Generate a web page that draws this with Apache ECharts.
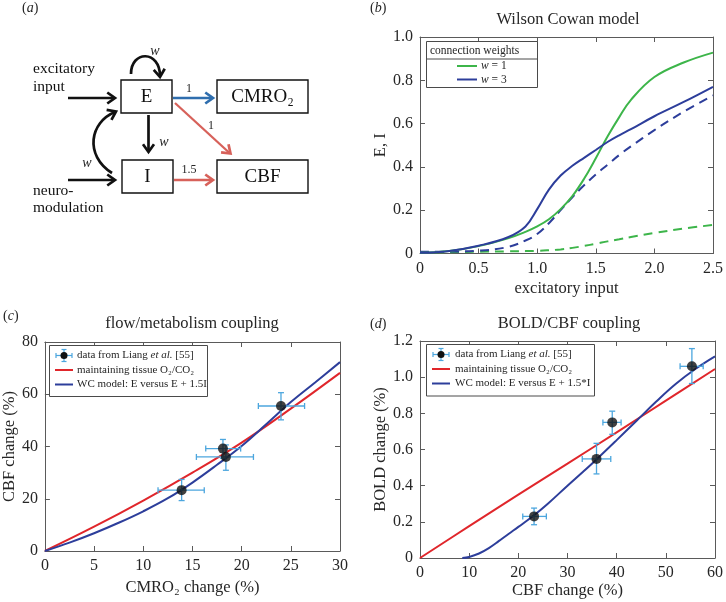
<!DOCTYPE html>
<html><head><meta charset="utf-8">
<script src="https://cdn.jsdelivr.net/npm/echarts@6/dist/echarts.min.js"></script>
<style>html,body{margin:0;padding:0;background:#fff}#c{width:726px;height:602px}</style>
</head><body><div id="c"></div>
<script>
// ---------- Panel (b): Wilson Cowan model ----------
const bX = [0, 0.25, 0.5, 0.75, 0.9, 1.0, 1.1, 1.2, 1.3, 1.4, 1.5, 1.6, 1.7, 1.8, 2.0, 2.25, 2.5];
const bE_w1 = [0.003, 0.012, 0.034, 0.07, 0.1, 0.125, 0.158, 0.205, 0.265, 0.345, 0.44, 0.54, 0.63, 0.71, 0.815, 0.882, 0.928];
const bE_w3 = [0.003, 0.012, 0.036, 0.075, 0.125, 0.205, 0.295, 0.36, 0.405, 0.442, 0.478, 0.515, 0.546, 0.574, 0.634, 0.70, 0.77];
const bI_w1 = [0.005, 0.006, 0.008, 0.01, 0.011, 0.012, 0.015, 0.019, 0.026, 0.035, 0.045, 0.056, 0.066, 0.076, 0.095, 0.115, 0.132];
const bI_w3 = [0.008, 0.009, 0.013, 0.03, 0.06, 0.09, 0.14, 0.2, 0.26, 0.315, 0.365, 0.41, 0.455, 0.495, 0.57, 0.655, 0.73];
const bXTicks = ['0', '0.5', '1.0', '1.5', '2.0', '2.5'];
const bYTicks = ['0', '0.2', '0.4', '0.6', '0.8', '1.0'];

// ---------- Panel (c): flow/metabolism coupling ----------
const cRedX = [0, 5, 10, 15, 20, 25, 30];
const cRedY = [0, 9.3, 19.3, 30, 41.5, 54.5, 68.2];
const cBlueX = [0, 2.5, 5, 7.5, 10, 12.5, 15, 17.5, 20, 22.5, 25, 27.5, 30];
const cBlueY = [0, 3.2, 6.8, 10.8, 15.2, 20.2, 26.2, 33, 40.2, 48.5, 57, 64.6, 72.3];
const cCMRO = [13.9, 18.1, 18.4, 24.0];
const cCBF = [23.3, 39.2, 36.0, 55.5];
const cCMROlo = [11.5, 16.35, 15.4, 21.7];
const cCMROhi = [16.2, 19.9, 21.2, 26.4];
const cCBFlo = [19.3, 35.5, 30.9, 50.2];
const cCBFhi = [27.4, 42.7, 40.6, 60.6];
const cXTicks = ['0', '5', '10', '15', '20', '25', '30'];
const cYTicks = ['0', '20', '40', '60', '80'];

// ---------- Panel (d): BOLD/CBF coupling ----------
const dRedX = [0, 10, 20, 30, 40, 50, 60];
const dRedY = [0, 0.176, 0.350, 0.522, 0.695, 0.870, 1.045];
const dBlueX = [8.6, 10, 12, 14, 16, 18, 20, 23, 26, 30, 33, 36, 40, 44, 48, 52, 56, 60];
const dBlueY = [0, 0.006, 0.025, 0.055, 0.093, 0.133, 0.172, 0.232, 0.30, 0.400, 0.473, 0.548, 0.652, 0.758, 0.864, 0.962, 1.045, 1.115];
const dCBF = [23.2, 35.9, 39.1, 55.3];
const dBOLD = [0.23, 0.548, 0.75, 1.06];
const dCBFlo = [20.9, 33.0, 37.2, 52.9];
const dCBFhi = [25.7, 38.8, 40.9, 57.6];
const dBOLDlo = [0.184, 0.465, 0.684, 0.965];
const dBOLDhi = [0.276, 0.634, 0.812, 1.158];
const dXTicks = ['0', '10', '20', '30', '40', '50', '60'];
const dYTicks = ['0', '0.2', '0.4', '0.6', '0.8', '1.0', '1.2'];

// ---------- styling ----------
const FONT = 'Liberation Serif';
const AX = '#5a5a5a';
const TXT = '#262626';
const GREEN = '#3db54a';
const BLUE = '#2d3e9b';
const RED = '#e0262b';
const ERR = '#4ca6de';
const TICK_FS = 16;
const NAME_FS = 16.5;

function xPair(gi, min, max, interval, ticks, name, nameGap) {
  return [{
    type: 'value', gridIndex: gi, min, max, interval, position: 'bottom',
    axisLine: {show: true, onZero: false, lineStyle: {color: AX, width: 1}},
    axisTick: {show: true, inside: true, length: 5, lineStyle: {color: AX}},
    axisLabel: {show: true, color: TXT, fontFamily: FONT, fontSize: TICK_FS, margin: 7,
      formatter: v => ticks[Math.round((v - min) / interval)]},
    splitLine: {show: false},
    name, nameLocation: 'middle', nameGap,
    nameTextStyle: {color: TXT, fontFamily: FONT, fontSize: NAME_FS}
  }, {
    type: 'value', gridIndex: gi, min, max, interval, position: 'top',
    axisLine: {show: true, onZero: false, lineStyle: {color: AX, width: 1}},
    axisTick: {show: true, inside: true, length: 5, lineStyle: {color: AX}},
    axisLabel: {show: false}, splitLine: {show: false}
  }];
}
function yPair(gi, min, max, interval, ticks, name, nameGap) {
  return [{
    type: 'value', gridIndex: gi, min, max, interval, position: 'left',
    axisLine: {show: true, onZero: false, lineStyle: {color: AX, width: 1}},
    axisTick: {show: true, inside: true, length: 5, lineStyle: {color: AX}},
    axisLabel: {show: true, color: TXT, fontFamily: FONT, fontSize: TICK_FS, margin: 7,
      formatter: v => ticks[Math.round((v - min) / interval)]},
    splitLine: {show: false},
    name, nameLocation: 'middle', nameGap,
    nameTextStyle: {color: TXT, fontFamily: FONT, fontSize: NAME_FS}
  }, {
    type: 'value', gridIndex: gi, min, max, interval, position: 'right',
    axisLine: {show: true, onZero: false, lineStyle: {color: AX, width: 1}},
    axisTick: {show: true, inside: true, length: 5, lineStyle: {color: AX}},
    axisLabel: {show: false}, splitLine: {show: false}
  }];
}

function lineS(name, gi, xs, ys, color, dashed) {
  return {
    type: 'line', name, xAxisIndex: gi * 2, yAxisIndex: gi * 2,
    data: xs.map((x, i) => [x, ys[i]]), showSymbol: false,
    smooth: 0.4, silent: true,
    lineStyle: {color, width: 2, type: dashed ? [9, 6] : 'solid'},
    itemStyle: {color}, z: 2
  };
}
function errS(gi, xs, ys, xlo, xhi, ylo, yhi) {
  return {
    type: 'custom', xAxisIndex: gi * 2, yAxisIndex: gi * 2, silent: true, z: 3,
    data: xs.map((x, i) => [x, ys[i], xlo[i], xhi[i], ylo[i], yhi[i]]),
    encode: {x: [0, 2, 3], y: [1, 4, 5]},
    renderItem: (params, api) => {
      const x = api.value(0), y = api.value(1);
      const l = api.coord([api.value(2), y]), r = api.coord([api.value(3), y]);
      const b = api.coord([x, api.value(4)]), t = api.coord([x, api.value(5)]);
      const cap = 3;
      const style = {stroke: ERR, lineWidth: 1.3};
      const L = (x1, y1, x2, y2) => ({type: 'line', shape: {x1, y1, x2, y2}, style});
      return {type: 'group', children: [
        L(l[0], l[1], r[0], r[1]),
        L(l[0], l[1] - cap, l[0], l[1] + cap),
        L(r[0], r[1] - cap, r[0], r[1] + cap),
        L(b[0], b[1], t[0], t[1]),
        L(b[0] - cap, b[1], b[0] + cap, b[1]),
        L(t[0] - cap, t[1], t[0] + cap, t[1])
      ]};
    }
  };
}
function ptS(gi, xs, ys) {
  return {type: 'scatter', xAxisIndex: gi * 2, yAxisIndex: gi * 2, silent: true, z: 5,
    symbolSize: 10, itemStyle: {color: '#111'}, data: xs.map((x, i) => [x, ys[i]])};
}

// ---------- graphic helpers (diagram, legends, panel labels) ----------
function T(text, x, y, size, extra) {
  return {type: 'text', z: 100, style: Object.assign({
    text, x, y, fill: TXT, fontFamily: FONT, fontSize: size,
    textAlign: 'left', textVerticalAlign: 'middle', align: 'left', verticalAlign: 'middle'
  }, extra || {})};
}
const ital = s => ({fontStyle: 'italic', fontFamily: FONT, fontSize: s, fill: TXT});
function Ln(x1, y1, x2, y2, color, w) {
  return {type: 'line', z: 100, shape: {x1, y1, x2, y2}, style: {stroke: color, lineWidth: w}};
}
function head(tx, ty, ang, color, len, w) {
  len = len || 9.5; const sp = 0.62;
  return {type: 'polyline', z: 100, shape: {points: [
    [tx - len * Math.cos(ang - sp), ty - len * Math.sin(ang - sp)], [tx, ty],
    [tx - len * Math.cos(ang + sp), ty - len * Math.sin(ang + sp)]]},
    style: {stroke: color, lineWidth: w || 2.7, fill: null, lineJoin: 'miter'}};
}
function box(x, y, w, h, label, size) {
  return [
    {type: 'rect', z: 100, shape: {x, y, width: w, height: h}, style: {fill: '#fff', stroke: '#111', lineWidth: 1.4}},
    T(label, x + w / 2, y + h / 2 + 1, size, {textAlign: 'center', align: 'center', fill: '#111'})
  ];
}
const K = '#111', AB = '#2f6eae', AR = '#d7615a';
const diagram = [
  T('({i|a})', 22, 8.5, 14, {rich: {i: ital(14)}}),
  T('excitatory', 33, 69, 15.5, {fill: '#111'}),
  T('input', 33, 87, 15.5, {fill: '#111'}),
  T('neuro-', 33, 191, 15.5, {fill: '#111'}),
  T('modulation', 33, 208, 15.5, {fill: '#111'}),
  ...box(121, 80, 51, 33, 'E', 19),
  ...box(217, 80, 91, 33, 'CMRO₂', 19),
  ...box(122, 160, 51, 33, 'I', 19),
  ...box(217, 160, 91, 33, 'CBF', 19),
  Ln(68, 98, 114, 98, K, 2.7), head(115, 98, 0, K),
  Ln(68, 180, 114, 180, K, 2.7), head(115, 180, 0, K),
  Ln(148.5, 115, 148.5, 151, K, 2.7), head(148.5, 152, Math.PI / 2, K),
  {type: 'bezierCurve', z: 100, shape: {x1: 131, y1: 74, cpx1: 131, cpy1: 50, cpx2: 160, cpy2: 50, x2: 160, y2: 76},
    style: {stroke: K, lineWidth: 2.7, fill: null}},
  head(160, 77, Math.PI / 2 - 0.1, K),
  {type: 'bezierCurve', z: 100, shape: {x1: 112, y1: 173, cpx1: 84, cpy1: 155, cpx2: 90, cpy2: 122, x2: 115, y2: 112},
    style: {stroke: K, lineWidth: 2.7, fill: null}},
  head(116, 111.5, -0.45, K),
  Ln(173, 98, 212, 98, AB, 2.7), head(213, 98, 0, AB),
  Ln(175, 103, 229, 152.5, AR, 2.3), head(230.5, 153.5, Math.atan2(50.5, 55.5), AR),
  Ln(174, 180, 212, 180, AR, 2.7), head(213, 180, 0, AR),
  T('{i|w}', 155, 51, 14, {textAlign: 'center', align: 'center', rich: {i: ital(14)}}),
  T('{i|w}', 164, 142, 14, {textAlign: 'center', align: 'center', rich: {i: ital(14)}}),
  T('{i|w}', 87, 163, 14, {textAlign: 'center', align: 'center', rich: {i: ital(14)}}),
  T('1', 189, 89, 12, {textAlign: 'center', align: 'center'}),
  T('1', 211, 126, 12, {textAlign: 'center', align: 'center'}),
  T('1.5', 189, 170, 12, {textAlign: 'center', align: 'center'})
];

function errIcon(cx, cy) {
  return [
    Ln(cx - 8, cy, cx + 8, cy, ERR, 1.2), Ln(cx - 8, cy - 2.5, cx - 8, cy + 2.5, ERR, 1.2),
    Ln(cx + 8, cy - 2.5, cx + 8, cy + 2.5, ERR, 1.2), Ln(cx, cy - 6, cx, cy + 6, ERR, 1.2),
    Ln(cx - 2.5, cy - 6, cx + 2.5, cy - 6, ERR, 1.2), Ln(cx - 2.5, cy + 6, cx + 2.5, cy + 6, ERR, 1.2),
    {type: 'circle', z: 101, shape: {cx, cy, r: 3.5}, style: {fill: '#111'}}
  ];
}
const LFS = 11;
function dataLegend(x, y, w, h, ix, tx, lastText) {
  const r = {i: ital(LFS)};
  return [
    {type: 'rect', z: 99, shape: {x, y, width: w, height: h}, style: {fill: '#fff', stroke: '#4a4a4a', lineWidth: 1}},
    ...errIcon(ix + 9, y + 10),
    T('data from Liang {i|et al.} [55]', tx, y + 10, LFS, {rich: r}),
    Ln(ix, y + 24.5, ix + 18, y + 24.5, RED, 2),
    T('maintaining tissue O₂/CO₂', tx, y + 24.5, LFS),
    Ln(ix, y + 39, ix + 18, y + 39, BLUE, 2),
    T(lastText, tx, y + 39, LFS)
  ];
}
const legends = [
  {type: 'rect', z: 99, shape: {x: 426.5, y: 41.5, width: 111, height: 46}, style: {fill: '#fff', stroke: '#4a4a4a', lineWidth: 1}},
  Ln(426.5, 59, 537.5, 59, '#4a4a4a', 1),
  T('connection weights', 430, 50.5, 11.5),
  Ln(457, 66, 477, 66, GREEN, 2),
  T('{i|w} = 1', 481, 66, 11.5, {rich: {i: ital(11.5)}}),
  Ln(457, 79.5, 477, 79.5, BLUE, 2),
  T('{i|w} = 3', 481, 79.5, 11.5, {rich: {i: ital(11.5)}}),
  ...dataLegend(49.5, 345.5, 158, 51, 55, 77, 'WC model: E versus E + 1.5I'),
  ...dataLegend(426.5, 344.5, 168, 51.5, 432, 455, 'WC model: E versus E + 1.5*I'),
  T('({i|b})', 370, 8, 14, {rich: {i: ital(14)}}),
  T('({i|c})', 3, 316, 14, {rich: {i: ital(14)}}),
  T('({i|d})', 370, 324, 14, {rich: {i: ital(14)}})
];

const titleStyle = {fontFamily: FONT, fontSize: 16.5, fontWeight: 'normal', color: TXT};
const option = {
  animation: false,
  backgroundColor: '#fff',
  title: [
    {text: 'Wilson Cowan model', left: 568, top: 11, textAlign: 'center', padding: 0, textStyle: titleStyle},
    {text: 'flow/metabolism coupling', left: 192, top: 315, textAlign: 'center', padding: 0, textStyle: titleStyle},
    {text: 'BOLD/CBF coupling', left: 569, top: 315, textAlign: 'center', padding: 0, textStyle: titleStyle}
  ],
  grid: [
    {left: 420, top: 37, width: 297, height: 216.5},
    {left: 43, top: 342, width: 297, height: 209},
    {left: 420, top: 341, width: 297, height: 217}
  ],
  xAxis: [
    ...xPair(0, 0, 2.5, 0.5, bXTicks, 'excitatory input', 27),
    ...xPair(1, 0, 30, 5, cXTicks, 'CMRO₂ change (%)', 28),
    ...xPair(2, 0, 60, 10, dXTicks, 'CBF change (%)', 23)
  ],
  yAxis: [
    ...yPair(0, 0, 1.0, 0.2, bYTicks, 'E, I', 30),
    ...yPair(1, 0, 80, 20, cYTicks, 'CBF change (%)', 25),
    ...yPair(2, 0, 1.2, 0.2, dYTicks, 'BOLD change (%)', 31)
  ],
  series: [
    lineS('I, w = 1', 0, bX, bI_w1, GREEN, true),
    lineS('I, w = 3', 0, bX, bI_w3, BLUE, true),
    lineS('E, w = 1', 0, bX, bE_w1, GREEN, false),
    lineS('E, w = 3', 0, bX, bE_w3, BLUE, false),
    lineS('maintaining tissue O2/CO2 (c)', 1, cRedX, cRedY, RED, false),
    lineS('WC model (c)', 1, cBlueX, cBlueY, BLUE, false),
    errS(1, cCMRO, cCBF, cCMROlo, cCMROhi, cCBFlo, cCBFhi),
    ptS(1, cCMRO, cCBF),
    lineS('maintaining tissue O2/CO2 (d)', 2, dRedX, dRedY, RED, false),
    lineS('WC model (d)', 2, dBlueX, dBlueY, BLUE, false),
    errS(2, dCBF, dBOLD, dCBFlo, dCBFhi, dBOLDlo, dBOLDhi),
    ptS(2, dCBF, dBOLD)
  ],
  graphic: [...diagram, ...legends]
};
const chart = echarts.init(document.getElementById('c'), null, {renderer: 'canvas'});
chart.setOption(option);
</script></body></html>
